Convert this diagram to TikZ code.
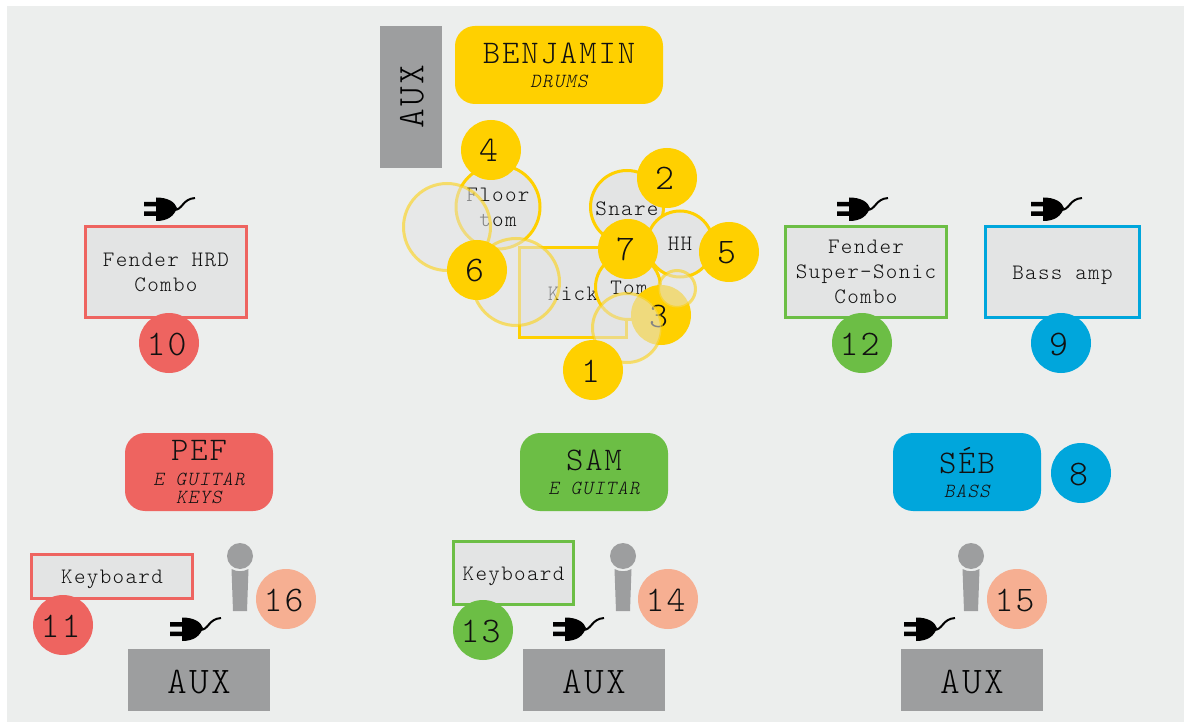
\documentclass[tikz,border=0pt]{standalone}
\usepackage{fontspec}
\newfontfamily\mono[LetterSpace=6,ItalicFont={Latin Modern Mono Light},ItalicFeatures={FakeSlant=0.2}]{Latin Modern Mono Light}
\definecolor{panel}{HTML}{ECEEED}
\definecolor{fillg}{HTML}{E3E4E4}
\definecolor{yel}{HTML}{FFD000}
\definecolor{redd}{HTML}{EE6460}
\definecolor{gree}{HTML}{6CBE45}
\definecolor{blu}{HTML}{00A6DC}
\definecolor{salm}{HTML}{F6AF92}
\definecolor{grey}{HTML}{9D9E9F}
\definecolor{ink}{HTML}{111111}
\tikzset{
 x=1pt,y=-1pt,
 num/.style={circle,fill=#1,minimum size=60pt,inner sep=0pt,text=ink,font=\mono\fontsize{36}{36}\selectfont,execute at end node=\kern5pt,text height=24pt,text depth=0pt},
 lbl/.style={text=ink,align=center,inner sep=0pt,font=\mono\fontsize{22}{25}\selectfont},
 equip/.style={rectangle,draw=#1,line width=3pt,fill=fillg,lbl},
 drum/.style={circle,draw=yel,line width=3pt,fill=fillg,lbl},
 ghost/.style={circle,draw=yel,line width=3pt,fill=fillg,opacity=.55,inner sep=0pt},
 who/.style={rectangle,rounded corners=20pt,fill=#1,minimum height=78pt,inner sep=0pt,align=center,text=ink,font=\mono\fontsize{20}{25}\selectfont},
 aux/.style={rectangle,fill=grey,minimum width=142pt,minimum height=62pt,inner sep=0pt,text=black,font=\mono\fontsize{37.5}{38}\selectfont},
 plug/.pic={
  \fill[black] (0,5) rectangle (14,9.5) (0,14.5) rectangle (14,19);
  \fill[black] (12,0.5) .. controls (24,0.5) and (31,5) .. (33,11) .. controls (30,19) and (24,24) .. (12,24) -- cycle;
  \draw[black,line width=2pt] (30,13) .. controls (39,13) and (38,2) .. (51,1);
 },
 mic/.pic={
  \fill[grey] (0,-43) circle (13);
  \fill[grey] (-8.5,-30) .. controls (-3,-27) and (3,-27) .. (8.5,-30) -- (7,12) -- (-7,12) -- cycle;
 }
}
\newcommand{\dropby}[2]{\raisebox{-#1}[\height][\depth]{#2}}
\newcommand{\nmtxt}[1]{{\mono\fontsize{33}{25}\selectfont\dropby{1pt}{#1}}}
\newcommand{\subtxt}[1]{{\mono\itshape\fontsize{20}{25}\selectfont\dropby{0pt}{#1}}}
\begin{document}
\begin{tikzpicture}
\useasboundingbox (0,0) rectangle (1184,722);
\fill[white] (0,0) rectangle (1184,722);
\fill[panel] (7,6) rectangle (1184,722);

% top
\node[aux,minimum width=62pt,minimum height=142pt] (auxtop) at (411,97) {\rotatebox{90}{AUX}\kern-2pt};
\node[who=yel,minimum width=208pt] (benjamin) at (559,65) {\nmtxt{BENJAMIN}\\\subtxt{DRUMS}};

% drum kit
\node[drum,minimum size=84pt] (floor) at (498,207) {Floor\\tom};
\node[drum,minimum size=73pt] (snare) at (627,207) {\dropby{2pt}{Snare}};
\node[drum,minimum size=66pt] (hh) at (680,244) {HH};
\node[equip=yel,minimum width=107pt,minimum height=90pt] (kick) at (573,292.5) {\dropby{1pt}{Kick}};
\node[drum,minimum size=65pt] (tom) at (628,287) {};
\node[lbl] (tomtxt) at (629,288) {Tom};
\node[num=yel] (n3) at (661,315) {3};
\node[ghost,minimum size=87pt] (g1) at (447,227) {};
\node[ghost,minimum size=87pt] (g2) at (516,282) {};
\node[ghost,minimum size=69pt] (g3) at (627,328) {};
\node[ghost,minimum size=37pt] (g4) at (677,289) {};
\node[num=yel] (n4) at (491,150) {4};
\node[num=yel] (n2) at (667,178) {2};
\node[num=yel] (n7) at (628,249) {7};
\node[num=yel] (n5) at (729,252) {5};
\node[num=yel] (n6) at (477,270) {6};
\node[num=yel] (n1) at (593,370) {1};

% amps
\pic (p1) at (144,197) {plug};
\pic (p2) at (837,197) {plug};
\pic (p3) at (1031,197) {plug};
\node[equip=redd,minimum width=161pt,minimum height=91pt] (hrd) at (166,272) {Fender HRD\\Combo};
\node[equip=gree,minimum width=161pt,minimum height=91pt] (sonic) at (866,272) {Fender\\Super-Sonic\\Combo};
\node[equip=blu,minimum width=154pt,minimum height=91pt] (bass) at (1062.5,272) {\dropby{3pt}{Bass amp}};
\node[num=redd] (n10) at (169,343) {10};
\node[num=gree] (n12) at (862,343) {12};
\node[num=blu] (n9) at (1061,343) {9};

% people
\node[who=redd,minimum width=148pt] (pef) at (199,472) {\nmtxt{PEF}\\[1pt]\subtxt{E GUITAR}\\[-7pt]\subtxt{KEYS}};
\node[who=gree,minimum width=148pt] (sam) at (594,472) {\nmtxt{SAM}\\\subtxt{E GUITAR}};
\node[who=blu,minimum width=148pt] (seb) at (967,472) {\nmtxt{SÉB}\\\subtxt{BASS}};
\node[num=blu] (n8) at (1081,473) {8};

% bottom
\node[equip=redd,minimum width=161pt,minimum height=44pt] (kb1) at (112,576.5) {\dropby{3pt}{Keyboard}};
\node[equip=gree,minimum width=120pt,minimum height=63pt] (kb2) at (513.5,573) {\dropby{3pt}{Keyboard}};
\pic (m1) at (240,599) {mic};
\pic (m2) at (623,599) {mic};
\pic (m3) at (971,599) {mic};
\node[num=salm] (n16) at (286,599) {16};
\node[num=salm] (n14) at (668,599) {14};
\node[num=salm] (n15) at (1017,599) {15};
\node[num=redd] (n11) at (63,625) {11};
\node[num=gree] (n13) at (483,630) {13};
\pic (p4) at (170,617) {plug};
\pic (p5) at (553,617) {plug};
\pic (p6) at (904,617) {plug};
\node[aux] (aux1) at (199,680) {\dropby{2pt}{AUX}};
\node[aux] (aux2) at (594,680) {\dropby{2pt}{AUX}};
\node[aux] (aux3) at (972,680) {\dropby{2pt}{AUX}};
\end{tikzpicture}
\end{document}
